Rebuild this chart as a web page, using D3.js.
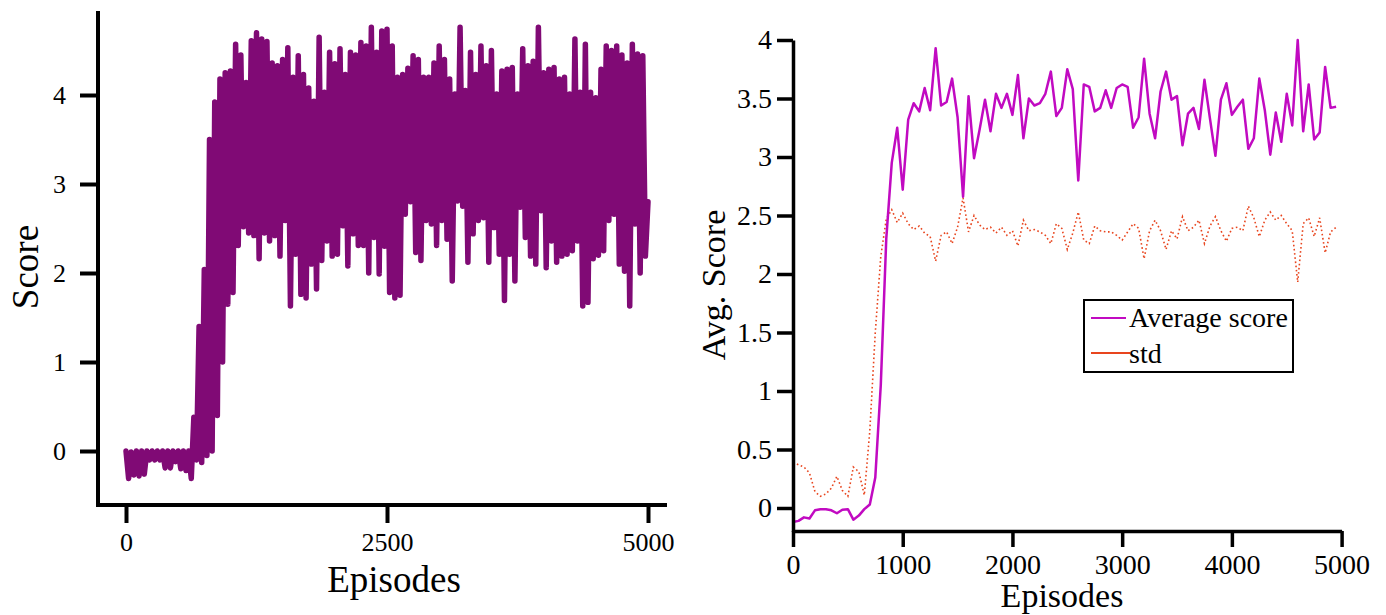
<!DOCTYPE html>
<html>
<head>
<meta charset="utf-8">
<script src="https://cdn.jsdelivr.net/npm/d3@7"></script>
<style>
  html, body { margin: 0; padding: 0; background: #ffffff; }
  svg { display: block; }
  text { font-family: "Liberation Serif", "Times New Roman", serif; fill: #000; }
</style>
</head>
<body>
<svg id="chart" width="1386" height="615"></svg>
<script>
// ---------------- DATA ----------------
// Left chart: raw score per episode, summarised as the upper and lower edge
// of the (very dense) score trace in each 50-episode block.
const leftXTicks = [0, 2500, 5000];
const leftYTicks = [0, 1, 2, 3, 4];
const scoreHigh = [
  0.00,-0.01,0.00,0.00,0.00,0.00,0.00,0.00,0.00,0.00,
  0.00,0.00,0.00,0.38,1.40,2.04,3.50,3.92,4.18,4.25,
  4.27,4.57,4.45,4.14,4.61,4.70,4.63,4.60,4.36,4.33,
  4.40,4.53,4.20,4.44,4.23,4.08,3.93,4.65,4.03,4.48,
  4.35,4.52,4.23,4.48,4.45,4.59,4.55,4.76,4.48,4.72,
  4.74,4.55,4.20,4.23,4.30,4.44,4.40,4.20,4.20,4.36,
  4.55,4.40,4.18,4.01,4.76,4.05,4.48,4.23,4.55,4.33,
  4.50,4.01,4.27,4.29,4.31,4.01,4.52,4.33,4.38,4.76,
  4.25,4.29,4.31,4.18,4.20,4.01,4.63,4.03,4.57,4.03,
  3.97,4.29,4.55,4.50,4.55,4.45,4.36,4.57,4.46,4.44
];
const scoreLow = [
  -0.31,-0.27,-0.28,-0.26,-0.10,-0.10,-0.10,-0.19,-0.19,-0.12,
  -0.20,-0.22,-0.31,-0.10,-0.13,-0.05,0.00,0.40,1.00,1.65,
  1.78,2.31,2.52,2.45,2.42,2.16,2.45,2.36,2.42,2.19,
  2.59,1.63,2.21,1.76,1.72,2.10,1.82,2.14,2.36,2.19,
  2.21,2.53,2.08,2.44,2.31,2.31,2.00,2.40,1.99,2.30,
  1.78,1.72,1.75,2.66,2.80,2.23,2.14,2.59,2.55,2.31,
  2.59,2.38,1.91,2.81,2.75,2.12,2.44,2.59,2.62,2.12,
  2.51,2.21,1.69,2.21,1.91,2.74,2.40,2.19,2.10,2.70,
  2.06,2.36,2.12,2.19,2.21,2.25,2.36,1.63,1.67,2.16,
  2.20,2.25,2.59,2.66,2.10,2.02,1.63,2.55,2.00,2.19
];
const scoreLast = 2.8;

// Right chart: average score and std, one value every 50 episodes
const rightXTicks = [0, 1000, 2000, 3000, 4000, 5000];
const rightYTicks = [0, 0.5, 1, 1.5, 2, 2.5, 3, 3.5, 4];
const avgEpisodes = d3.range(0, 5000, 50);
const avgScore = [
  -0.12,-0.11,-0.08,-0.09,-0.02,-0.01,-0.01,-0.02,-0.045,-0.015,
  -0.01,-0.10,-0.065,-0.01,0.03,0.26,1.05,2.30,2.95,3.25,
  2.72,3.32,3.46,3.39,3.59,3.40,3.93,3.44,3.47,3.67,
  3.34,2.66,3.52,2.99,3.23,3.49,3.22,3.54,3.42,3.54,
  3.36,3.70,3.16,3.50,3.44,3.46,3.54,3.73,3.35,3.42,
  3.75,3.58,2.80,3.62,3.60,3.39,3.42,3.57,3.42,3.59,
  3.62,3.60,3.25,3.34,3.84,3.37,3.16,3.56,3.73,3.49,
  3.52,3.10,3.37,3.42,3.24,3.66,3.33,3.01,3.49,3.63,
  3.36,3.43,3.49,3.07,3.16,3.67,3.40,3.02,3.38,3.13,
  3.54,3.27,4.00,3.22,3.62,3.15,3.21,3.77,3.42,3.43
];
const stdScore = [
  0.39,0.37,0.35,0.30,0.14,0.10,0.12,0.17,0.27,0.15,
  0.10,0.35,0.31,0.11,0.66,1.50,2.15,2.47,2.55,2.44,
  2.52,2.43,2.38,2.41,2.35,2.32,2.11,2.33,2.36,2.26,
  2.40,2.65,2.36,2.50,2.42,2.38,2.40,2.35,2.40,2.33,
  2.37,2.24,2.46,2.37,2.38,2.36,2.33,2.26,2.43,2.39,
  2.21,2.35,2.53,2.29,2.26,2.41,2.37,2.36,2.36,2.33,
  2.29,2.36,2.43,2.39,2.13,2.37,2.46,2.37,2.21,2.37,
  2.30,2.49,2.37,2.40,2.46,2.26,2.41,2.49,2.37,2.28,
  2.39,2.40,2.37,2.58,2.48,2.32,2.46,2.53,2.46,2.50,
  2.43,2.37,1.93,2.43,2.48,2.32,2.48,2.18,2.36,2.40
];
const legendLabels = ["Average score", "std"];

// ---------------- DRAW ----------------
const svg = d3.select("#chart");
svg.append("rect").attr("width", 1386).attr("height", 615).attr("fill", "#fff");

const serif = '"Liberation Serif", "Times New Roman", serif';
const purple = "#800a75";
const magenta = "#c10ac1";
const orange = "#e8451e";

// ===== Left chart =====
const xL = d3.scaleLinear().domain([0, 5000]).range([126, 648]);
const yL = d3.scaleLinear().domain([0, 4]).range([451, 95]);
const L = { left: 98, right: 667, top: 11, bottom: 505 };

// raw trace: alternate upper / lower edge of each block
const raw = [];
scoreHigh.forEach((h, k) => {
  raw.push([k * 50, h]);
  raw.push([k * 50 + 25, scoreLow[k]]);
});
raw.push([5000, scoreLast]);

svg.append("path")
  .datum(raw)
  .attr("fill", "none")
  .attr("stroke", purple)
  .attr("stroke-width", 5.5)
  .attr("stroke-linejoin", "round")
  .attr("stroke-linecap", "round")
  .attr("d", d3.line().x(d => xL(d[0])).y(d => yL(d[1])));

const gxL = svg.append("g").attr("transform", `translate(0,${L.bottom})`)
  .call(d3.axisBottom(xL).tickValues(leftXTicks).tickSize(18).tickPadding(10).tickFormat(d3.format("d")));
gxL.select(".domain").remove();
gxL.selectAll(".tick line").attr("stroke", "#000").attr("stroke-width", 4);
gxL.selectAll(".tick text").attr("font-family", serif).attr("font-size", 26).attr("fill", "#000");

const gyL = svg.append("g").attr("transform", `translate(${L.left},0)`)
  .call(d3.axisLeft(yL).tickValues(leftYTicks).tickSize(18).tickPadding(14).tickFormat(d3.format("d")));
gyL.select(".domain").remove();
gyL.selectAll(".tick line").attr("stroke", "#000").attr("stroke-width", 4);
gyL.selectAll(".tick text").attr("font-family", serif).attr("font-size", 26).attr("fill", "#000");

svg.append("path")
  .attr("d", `M${L.left},${L.top}V${L.bottom}H${L.right}`)
  .attr("fill", "none").attr("stroke", "#000").attr("stroke-width", 4);

svg.append("text").attr("x", 394).attr("y", 592)
  .attr("text-anchor", "middle").attr("font-size", 37).text("Episodes");
svg.append("text").attr("transform", "translate(38,267) rotate(-90)")
  .attr("text-anchor", "middle").attr("font-size", 37).text("Score");

// ===== Right chart =====
const xR = d3.scaleLinear().domain([0, 5000]).range([793, 1341.6]);
const yR = d3.scaleLinear().domain([-0.2, 4]).range([531.4, 40]);

svg.append("path")
  .datum(stdScore)
  .attr("fill", "none")
  .attr("stroke", orange)
  .attr("stroke-width", 1.6)
  .attr("stroke-dasharray", "1.6,2.6")
  .attr("d", d3.line().x((d, i) => xR(avgEpisodes[i])).y(d => yR(d)));

svg.append("path")
  .datum(avgScore)
  .attr("fill", "none")
  .attr("stroke", magenta)
  .attr("stroke-width", 2.5)
  .attr("stroke-linejoin", "round")
  .attr("d", d3.line().x((d, i) => xR(avgEpisodes[i])).y(d => yR(d)));

const gxR = svg.append("g").attr("transform", "translate(0,531)")
  .call(d3.axisBottom(xR).tickValues(rightXTicks).tickSizeInner(16).tickSizeOuter(0).tickPadding(7).tickFormat(d3.format("d")));
gxR.select(".domain").attr("stroke", "#000").attr("stroke-width", 3.5);
gxR.selectAll(".tick line").attr("stroke", "#000").attr("stroke-width", 3.5);
gxR.selectAll(".tick text").attr("font-family", serif).attr("font-size", 28).attr("fill", "#000");

const gyR = svg.append("g").attr("transform", "translate(793,0)")
  .call(d3.axisLeft(yR).tickValues(rightYTicks).tickSizeInner(16).tickSizeOuter(0).tickPadding(5).tickFormat(d => String(d)));
gyR.select(".domain").attr("stroke", "#000").attr("stroke-width", 3.5);
gyR.selectAll(".tick line").attr("stroke", "#000").attr("stroke-width", 3.5);
gyR.selectAll(".tick text").attr("font-family", serif).attr("font-size", 28).attr("fill", "#000");

svg.append("text").attr("x", 1062).attr("y", 607)
  .attr("text-anchor", "middle").attr("font-size", 34).text("Episodes");
svg.append("text").attr("transform", "translate(725,285) rotate(-90)")
  .attr("text-anchor", "middle").attr("font-size", 34).text("Avg. Score");

// legend
const lg = svg.append("g");
lg.append("rect").attr("x", 1084).attr("y", 300).attr("width", 209).attr("height", 72)
  .attr("fill", "#fff").attr("stroke", "#000").attr("stroke-width", 2);
const legendColors = [magenta, orange];
const legendRows = [318, 353];
const legendBase = [327, 363];
legendLabels.forEach((lab, i) => {
  lg.append("line").attr("x1", 1091).attr("x2", i === 0 ? 1126 : 1130)
    .attr("y1", legendRows[i]).attr("y2", legendRows[i])
    .attr("stroke", legendColors[i]).attr("stroke-width", 2);
  lg.append("text").attr("x", 1129).attr("y", legendBase[i])
    .attr("font-size", 28).text(lab);
});
</script>
</body>
</html>
